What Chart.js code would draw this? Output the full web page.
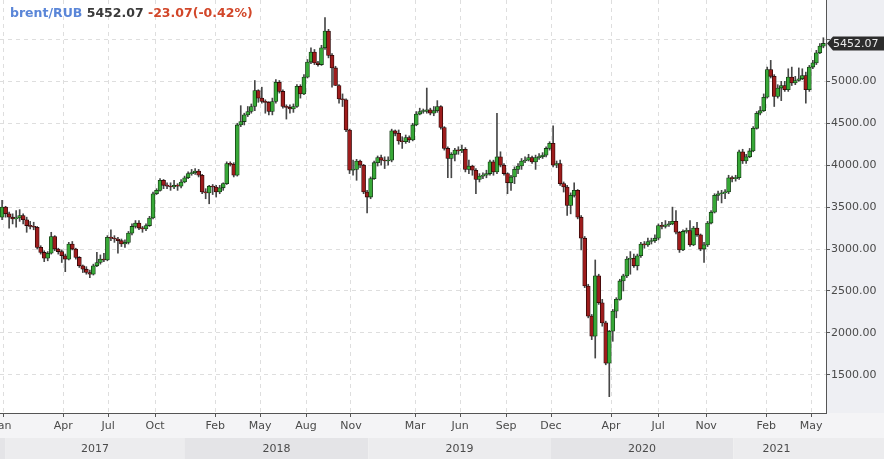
<!DOCTYPE html>
<html><head><meta charset="utf-8">
<script src="https://cdn.jsdelivr.net/npm/chart.js@4"></script>
<style>html,body{margin:0;padding:0;background:#fff;overflow:hidden}#wrap{width:884px;height:459px;position:relative}</style>
</head><body><div id="wrap"><canvas id="c" width="884" height="459"></canvas></div>
<script>
// Weekly OHLC values, brent/RUB (week index 0 = first week of Jan 2017)
const opens=[3380,3500,3420,3380,3360,3370,3400,3350,3280,3270,3260,3020,2960,2890,2950,3150,3000,2970,2920,2880,
3060,3000,2900,2800,2760,2720,2700,2800,2840,2880,2870,3140,3130,3120,3100,3060,3080,3190,3270,3310,
3250,3240,3280,3370,3660,3700,3820,3760,3750,3740,3760,3750,3800,3850,3900,3910,3930,3880,3680,3670,
3750,3740,3680,3730,3780,4020,4010,3880,4480,4520,4600,4640,4700,4890,4800,4760,4750,4640,4760,4990,
4880,4700,4690,4670,4700,4940,4850,5050,5230,5350,5220,5200,5400,5600,5310,5160,4950,4790,4780,4420,
3940,3950,4050,4000,3680,3620,3840,4030,4090,4060,4050,4060,4410,4380,4290,4280,4330,4300,4480,4610,
4640,4640,4660,4620,4650,4700,4450,4200,4080,4130,4180,4170,4190,3950,3990,3940,3830,3870,3880,3900,
4040,3920,4100,4000,3900,3790,3860,3950,3990,4050,4060,4090,4040,4090,4100,4120,4200,4260,4000,4020,
3780,3740,3520,3640,3700,3380,3130,2560,2200,1960,2680,2360,2120,1640,2020,2260,2400,2620,2680,2880,
2890,2800,2920,3060,3050,3090,3100,3130,3280,3270,3290,3300,3330,3200,2990,3210,3220,3050,3250,3170,
3000,3050,3310,3440,3640,3660,3670,3680,3850,3840,3850,4160,4050,4100,4170,4440,4620,4650,4810,5140,
5060,4820,4920,4950,4900,5050,4980,5010,5030,5070,4900,5170,5220,5340,5420];
const highs=[3580,3510,3440,3420,3460,3470,3420,3380,3330,3320,3270,3040,2980,2970,3200,3160,3010,2990,2940,3080,
3090,3010,2910,2810,2790,2750,2820,2960,2930,2950,3160,3230,3160,3140,3120,3110,3210,3300,3340,3340,
3270,3300,3390,3680,3720,3840,3830,3790,3790,3820,3780,3830,3870,3920,3950,3960,3950,3890,3720,3760,
3770,3760,3760,3790,4040,4040,4030,4500,4710,4620,4700,4730,5010,4900,4930,4780,4760,4800,5020,5010,
4900,4720,4720,4730,4960,4960,5080,5260,5400,5380,5240,5430,5760,5620,5330,5180,4960,4850,4790,4430,
4060,4070,4060,4010,3700,3860,4050,4110,4120,4100,4100,4430,4420,4420,4340,4360,4350,4500,4640,4680,
4670,4920,4680,4700,4770,4710,4460,4220,4150,4200,4220,4240,4210,4060,4000,3960,3900,3910,3940,4060,
4060,4620,4160,4020,3910,3880,3980,4020,4080,4100,4130,4110,4120,4140,4150,4220,4280,4470,4050,4060,
3800,3760,3670,3790,3710,3400,3150,2580,2220,2870,2700,2400,2140,2030,2280,2420,2640,2700,2910,2970,
2940,2940,3080,3090,3130,3130,3170,3300,3320,3340,3330,3500,3460,3210,3230,3250,3340,3270,3320,3180,
3080,3330,3460,3660,3690,3700,3710,3880,3870,3880,4180,4190,4130,4200,4460,4640,4700,4850,5170,5250,
5080,4960,5000,5000,5150,5170,5060,5160,5150,5110,5190,5250,5370,5450,5520];
const lows=[3350,3380,3250,3300,3260,3330,3300,3200,3240,3230,3000,2940,2850,2860,2940,2980,2940,2840,2730,2870,
2990,2880,2780,2720,2700,2660,2690,2790,2820,2850,2860,3100,3080,2950,3030,3020,3060,3170,3250,3230,
3200,3220,3270,3360,3650,3690,3720,3720,3700,3720,3700,3730,3790,3840,3880,3890,3860,3660,3600,3540,
3650,3620,3660,3700,3770,3990,3860,3870,4460,4480,4580,4620,4650,4750,4740,4620,4600,4600,4740,4860,
4680,4550,4620,4630,4690,4800,4840,5040,5210,5200,5180,5190,5380,5280,4930,4950,4740,4700,4400,3900,
3880,3820,3970,3660,3430,3600,3830,3990,4000,3960,4000,4040,4350,4250,4200,4260,4270,4290,4470,4600,
4620,4620,4600,4590,4630,4430,4180,3850,3850,4050,4130,4150,3920,3900,3880,3660,3800,3840,3850,3880,
3880,3900,3980,3880,3660,3700,3780,3900,3950,4030,4050,4020,3950,4070,4080,4100,4180,3980,3970,3760,
3680,3400,3420,3620,3360,2990,2540,2180,1920,1700,2340,2080,1620,1240,1900,2180,2390,2500,2660,2700,
2780,2750,2900,3010,3030,3060,3080,3110,3240,3250,3270,3290,3180,2960,2980,3190,3030,3040,3150,2980,
2840,3030,3300,3430,3580,3550,3600,3660,3800,3810,3830,4020,4020,4090,4160,4430,4600,4640,4800,5040,
4700,4800,4770,4880,4880,4950,4960,5000,5020,4740,4880,5150,5200,5330,5400];
const closes=[3500,3420,3380,3360,3370,3400,3350,3280,3270,3260,3020,2960,2890,2950,3150,3000,2970,2920,2880,3060,
3000,2900,2800,2760,2720,2700,2800,2840,2880,2870,3140,3130,3120,3100,3060,3080,3190,3270,3310,3250,
3240,3280,3370,3660,3700,3820,3760,3750,3740,3760,3750,3800,3850,3900,3910,3930,3880,3680,3670,3750,
3740,3680,3730,3780,4020,4010,3880,4480,4520,4600,4640,4700,4890,4800,4760,4750,4640,4760,4990,4880,
4700,4690,4670,4700,4940,4850,5050,5230,5350,5220,5200,5400,5600,5310,5160,4950,4790,4780,4420,3940,
3950,4050,4000,3680,3620,3840,4030,4090,4060,4050,4060,4410,4380,4290,4280,4330,4300,4480,4610,4640,
4640,4660,4620,4650,4700,4450,4200,4080,4130,4180,4170,4190,3950,3990,3940,3830,3870,3880,3900,4040,
3920,4100,4000,3900,3790,3860,3950,3990,4050,4060,4090,4040,4090,4100,4120,4200,4260,4000,4020,3780,
3740,3520,3640,3700,3380,3130,2560,2200,1960,2680,2360,2120,1640,2020,2260,2400,2620,2680,2880,2890,
2800,2920,3060,3050,3090,3100,3130,3280,3270,3290,3300,3330,3200,2990,3210,3220,3050,3250,3170,3000,
3050,3310,3440,3640,3660,3670,3680,3850,3840,3850,4160,4050,4100,4170,4440,4620,4650,4810,5140,5060,
4820,4920,4950,4900,5050,4980,5010,5030,5070,4900,5170,5220,5340,5420,5452.07];

// x-axis month ticks (week index where each label sits) and labels
const tickWeeks=[0.28,17.4,30.2,43.6,60.7,73.5,86.6,99.4,117.7,130.5,143.6,156.4,173.5,186.9,200.6,217.7,230.5];
const tickLabels=['Jan','Apr','Jul','Oct','Feb','May','Aug','Nov','Mar','Jun','Sep','Dec','Apr','Jul','Nov','Feb','May'];
// year bands (week index where each year starts)
const yearStarts=[0.85,52.1,104.3,156.4,208.3];
const yearLabels=['2017','2018','2019','2020','2021'];
// y-axis ticks
const yTicks=[1500,2000,2500,3000,3500,4000,4500,5000,5500];
const symbol='brent/RUB', lastText='5452.07', changeText='-23.07(-0.42%)';

const FONT='"DejaVu Sans", Verdana, sans-serif';
const wickData=closes.map((c,i)=>({x:i,y:[lows[i],highs[i]]}));
const bodyData=closes.map((c,i)=>({x:i,y:[opens[i],c]}));
const bodyColors=closes.map((c,i)=>c>=opens[i]?'#37a837':'#9e1c1c');
const bodyBorders=closes.map((c,i)=>c>=opens[i]?'#123812':'#2a0606');

const decor={
  id:'decor',
  beforeDraw(chart){
    const {ctx,chartArea:a,width,height}=chart;
    const xs=chart.scales.x;
    ctx.save();
    ctx.fillStyle='#ffffff';ctx.fillRect(0,0,width,height);
    ctx.fillStyle='#eeeff3';ctx.fillRect(a.right,0,width-a.right,a.bottom);
    ctx.fillStyle='#f4f4f6';ctx.fillRect(0,a.bottom,width,25);
    const by=a.bottom+25;
    ctx.fillStyle='#e4e4e7';
    ctx.fillRect(0,by,xs.getPixelForValue(yearStarts[0]),height-by);
    for(let k=0;k<yearStarts.length;k++){
      const x0=xs.getPixelForValue(yearStarts[k]);
      const x1=k+1<yearStarts.length?xs.getPixelForValue(yearStarts[k+1]):width;
      ctx.fillStyle=(k%2===0)?'#ececee':'#e4e4e7';
      ctx.fillRect(x0,by,x1-x0,height-by);
    }
    ctx.restore();
  },
  afterDraw(chart){
    const {ctx,chartArea:a,width,height}=chart;
    const xs=chart.scales.x, ys=chart.scales.y;
    ctx.save();
    ctx.font='11px '+FONT;ctx.fillStyle='#4a4a4a';ctx.textAlign='center';ctx.textBaseline='middle';
    const by=a.bottom+25;
    for(let k=0;k<yearStarts.length;k++){
      const x0=xs.getPixelForValue(yearStarts[k]);
      const x1=k+1<yearStarts.length?xs.getPixelForValue(yearStarts[k+1]):a.right-6;
      ctx.fillText(yearLabels[k],(x0+x1)/2,by+(height-by)/2+1);
    }
    ctx.textAlign='left';ctx.textBaseline='alphabetic';
    ctx.font='bold 12.5px '+FONT;
    let x=10;const y=17;
    ctx.fillStyle='#5a86d8';ctx.fillText(symbol,x,y);x+=ctx.measureText(symbol+' ').width;
    ctx.fillStyle='#3a3a3a';ctx.fillText(lastText,x,y);x+=ctx.measureText(lastText+' ').width;
    ctx.fillStyle='#d2472a';ctx.fillText(changeText,x,y);
    const py=ys.getPixelForValue(closes[closes.length-1]);
    ctx.fillStyle='#2c2c2c';
    ctx.beginPath();ctx.moveTo(a.right+1,py);ctx.lineTo(a.right+7,py-7);ctx.lineTo(width,py-7);ctx.lineTo(width,py+7);ctx.lineTo(a.right+7,py+7);ctx.closePath();ctx.fill();
    ctx.fillStyle='#eaeaea';ctx.font='11px '+FONT;ctx.textBaseline='middle';
    ctx.fillText(lastText,a.right+7,py+1);
    ctx.restore();
  }
};

new Chart(document.getElementById('c'),{
  type:'bar',
  data:{datasets:[
    {label:'body',data:bodyData,backgroundColor:bodyColors,borderColor:bodyBorders,borderWidth:0.8,borderSkipped:false,barThickness:4,minBarLength:1,grouped:false,order:0},
    {label:'wick',data:wickData,backgroundColor:'#474747',borderWidth:0,barThickness:1,grouped:false,order:1}
  ]},
  options:{
    responsive:false,animation:false,devicePixelRatio:1,
    layout:{padding:0},
    plugins:{legend:{display:false},tooltip:{enabled:false},title:{display:false}},
    scales:{
      x:{type:'linear',min:-0.6,max:234.75,offset:false,
        afterBuildTicks(s){s.ticks=tickWeeks.map(v=>({value:v}));},
        afterFit(s){s.height=46;s.paddingLeft=0;s.paddingRight=0;},
        grid:{offset:false,color:'#dedede',tickColor:'#555',tickLength:4,drawTicks:true},
        border:{color:'#555',width:1,dash:[4,4]},
        ticks:{autoSkip:false,maxRotation:0,padding:3,color:'#4a4a4a',font:{family:FONT,size:11},
          callback(v){const k=tickWeeks.indexOf(v);return k>=0?tickLabels[k]:'';}}
      },
      y:{type:'linear',position:'right',min:1045,max:5970,
        afterBuildTicks(s){s.ticks=yTicks.map(v=>({value:v}));},
        afterFit(s){s.width=58;s.paddingTop=0;s.paddingBottom=0;},
        grid:{color:'#dedede',tickColor:'#555',tickLength:4,drawTicks:true},
        border:{color:'#555',width:1,dash:[4,4]},
        ticks:{padding:1,color:'#4a4a4a',font:{family:FONT,size:11},
          callback(v){return v>5400?'':Number(v).toFixed(2);}}
      }
    }
  },
  plugins:[decor]
});
</script></body></html>
